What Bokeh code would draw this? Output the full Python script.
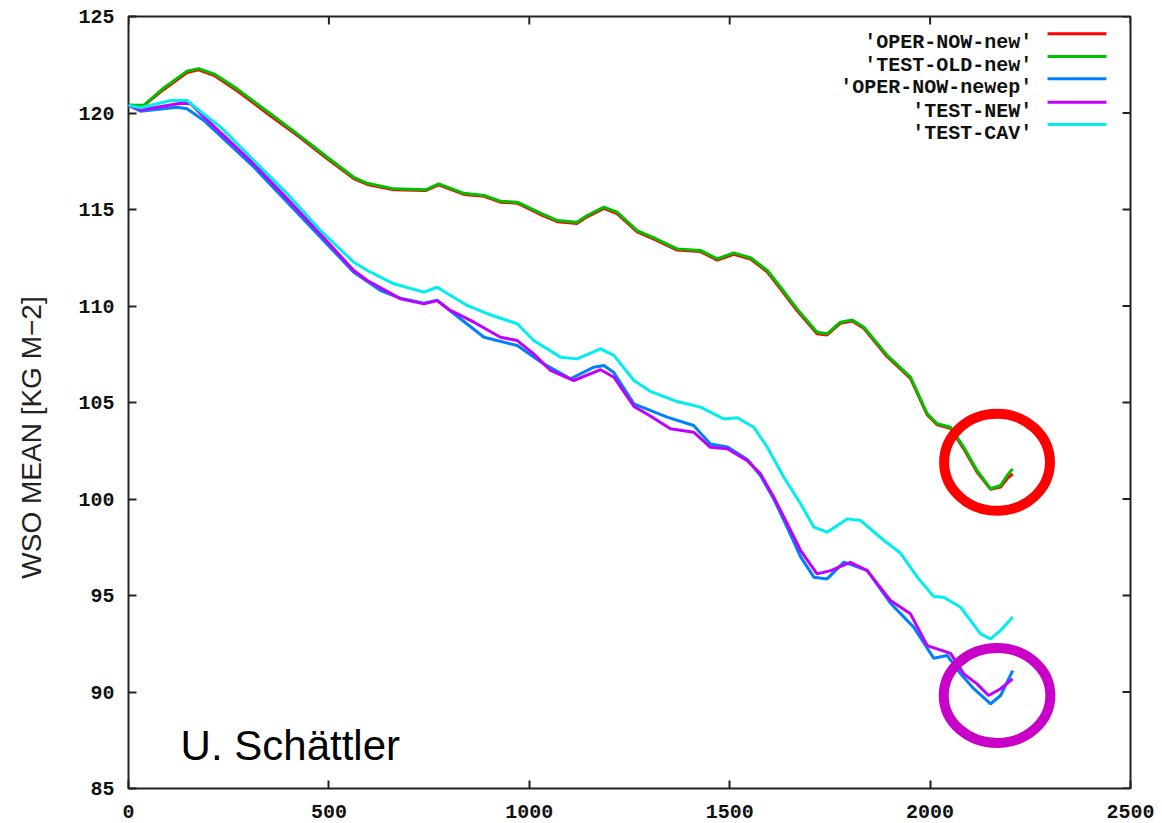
from bokeh.plotting import figure
from bokeh.models import Range1d, FixedTicker, Label
from bokeh.embed import file_html
from bokeh.resources import INLINE

# ---- series (forecast hour vs. mean WSO) ----
series_names = ["'OPER-NOW-new'", "'TEST-OLD-new'", "'OPER-NOW-newep'", "'TEST-NEW'", "'TEST-CAV'"]
series_colors = ["#ff0000", "#00c000", "#0080ff", "#c000ff", "#00eeee"]

oper_now_new_x = [0, 38, 88, 146, 175, 213, 271, 354, 421, 496, 562, 596, 662, 741, 774, 837, 887, 928,
                  970, 1028, 1070, 1119, 1144, 1186, 1219, 1269, 1311, 1369, 1427, 1469, 1510, 1552, 1594,
                  1627, 1668, 1718, 1743, 1776, 1806, 1835, 1893, 1951, 1993, 2018, 2051, 2084, 2117, 2151,
                  2176, 2192, 2206]
oper_now_new_y = [120.4, 120.38, 121.22, 122.1, 122.24, 121.95, 121.15, 119.86, 118.84, 117.63, 116.6,
                  116.3, 116.02, 115.98, 116.28, 115.78, 115.68, 115.38, 115.33, 114.74, 114.37, 114.28,
                  114.62, 115.06, 114.79, 113.84, 113.47, 112.9, 112.82, 112.38, 112.68, 112.43, 111.76,
                  110.88, 109.76, 108.56, 108.5, 109.1, 109.22, 108.83, 107.37, 106.25, 104.35, 103.84,
                  103.66, 102.6, 101.4, 100.5, 100.62, 101.05, 101.3]

test_old_new_x = [0, 38, 88, 146, 175, 213, 271, 354, 421, 496, 562, 596, 662, 741, 774, 837, 887, 928,
                  970, 1028, 1070, 1119, 1144, 1186, 1219, 1269, 1311, 1369, 1427, 1469, 1510, 1552, 1594,
                  1627, 1668, 1718, 1743, 1776, 1806, 1835, 1893, 1951, 1993, 2018, 2051, 2084, 2117, 2151,
                  2176, 2192, 2206]
test_old_new_y = [120.4, 120.4, 121.3, 122.17, 122.3, 122.03, 121.25, 119.96, 118.92, 117.71, 116.67,
                  116.36, 116.07, 116.02, 116.33, 115.84, 115.73, 115.43, 115.38, 114.81, 114.43, 114.34,
                  114.69, 115.12, 114.86, 113.91, 113.53, 112.96, 112.88, 112.44, 112.75, 112.5, 111.84,
                  110.97, 109.85, 108.64, 108.56, 109.16, 109.28, 108.9, 107.44, 106.31, 104.41, 103.9,
                  103.72, 102.68, 101.48, 100.53, 100.7, 101.22, 101.56]

oper_now_newep_x = [0, 30, 121, 146, 188, 313, 396, 479, 562, 629, 679, 737, 770, 812, 887, 970, 1036,
                    1103, 1161, 1186, 1211, 1261, 1344, 1410, 1452, 1494, 1544, 1577, 1610, 1644, 1677,
                    1710, 1743, 1785, 1843, 1901, 1959, 2009, 2043, 2076, 2109, 2151, 2176, 2206]
oper_now_newep_y = [120.4, 120.09, 120.3, 120.22, 119.61, 117.19, 115.38, 113.56, 111.75, 110.8, 110.4,
                    110.15, 110.3, 109.6, 108.38, 107.95, 107.0, 106.23, 106.83, 106.92, 106.55, 104.93,
                    104.24, 103.81, 102.85, 102.7, 102.05, 101.2, 100.0, 98.5, 97.0, 95.95, 95.86, 96.73,
                    96.3, 94.6, 93.36, 91.75, 91.89, 90.94, 90.17, 89.39, 89.82, 91.11]

test_new_x = [0, 30, 130, 155, 188, 313, 396, 479, 562, 596, 679, 737, 770, 803, 862, 928, 970, 1011,
              1053, 1111, 1178, 1211, 1261, 1302, 1352, 1410, 1452, 1494, 1544, 1577, 1610, 1644, 1677,
              1718, 1752, 1801, 1843, 1901, 1951, 1993, 2051, 2084, 2117, 2146, 2176, 2206]
test_new_y = [120.4, 120.16, 120.51, 120.48, 119.8, 117.35, 115.55, 113.72, 111.84, 111.32, 110.37,
              110.11, 110.28, 109.77, 109.16, 108.38, 108.21, 107.52, 106.66, 106.14, 106.7, 106.31, 104.8,
              104.3, 103.64, 103.46, 102.68, 102.6, 101.99, 101.3, 100.09, 98.71, 97.33, 96.12, 96.29,
              96.72, 96.29, 94.74, 94.05, 92.4, 92.0, 90.94, 90.42, 89.82, 90.17, 90.68]

test_cav_x = [0, 30, 105, 146, 171, 230, 313, 396, 479, 562, 596, 662, 737, 770, 845, 895, 970, 1011,
              1078, 1119, 1178, 1211, 1261, 1302, 1369, 1427, 1485, 1519, 1560, 1594, 1635, 1677, 1710,
              1743, 1793, 1826, 1885, 1926, 1970, 2009, 2034, 2076, 2126, 2151, 2176, 2206]
test_cav_y = [120.4, 120.27, 120.65, 120.65, 120.22, 119.27, 117.54, 115.81, 113.91, 112.27, 111.84,
              111.15, 110.72, 110.97, 110.03, 109.6, 109.08, 108.21, 107.35, 107.26, 107.78, 107.44,
              106.14, 105.58, 105.05, 104.76, 104.15, 104.21, 103.72, 102.68, 101.13, 99.75, 98.54,
              98.28, 98.97, 98.89, 97.85, 97.2, 95.9, 94.95, 94.91, 94.39, 93.01, 92.75, 93.19, 93.88]

x_ticks = [0, 500, 1000, 1500, 2000, 2500]
y_ticks = [85, 90, 95, 100, 105, 110, 115, 120, 125]

series_x = [oper_now_new_x, test_old_new_x, oper_now_newep_x, test_new_x, test_cav_x]
series_y = [oper_now_new_y, test_old_new_y, oper_now_newep_y, test_new_y, test_cav_y]

X_MIN, X_MAX = 0, 2500
Y_MIN, Y_MAX = 85, 125

# ---- figure ----
p = figure(width=1162, height=823, output_backend="svg", toolbar_location=None,
           x_range=Range1d(X_MIN, X_MAX), y_range=Range1d(Y_MIN, Y_MAX),
           min_border_left=128, min_border_right=32, min_border_top=16, min_border_bottom=35,
           background_fill_color="white", border_fill_color="white")
p.xgrid.visible = False
p.ygrid.visible = False
p.outline_line_color = "#222222"
p.outline_line_width = 2

TICK_FONT = "Liberation Mono"
TICK_LEN = 8  # px, ticks point into the frame

for ax, ticks in ((p.xaxis[0], x_ticks), (p.yaxis[0], y_ticks)):
    ax.ticker = FixedTicker(ticks=ticks)
    ax.axis_line_color = None
    ax.major_tick_in = TICK_LEN
    ax.major_tick_out = 0
    ax.minor_tick_in = 0
    ax.minor_tick_out = 0
    ax.major_tick_line_color = "#222222"
    ax.major_tick_line_width = 2
    ax.major_label_text_font = TICK_FONT
    ax.major_label_text_font_style = "bold"
    ax.major_label_text_font_size = "20px"
    ax.major_label_text_color = "#111111"
p.xaxis[0].major_label_standoff = 16
p.yaxis[0].major_label_standoff = 14

# y-axis title; the trailing no-break spaces push the visible words a little lower
p.yaxis[0].axis_label = "WSO MEAN [KG M\u22122]" + "\u00a0" * 9
p.yaxis[0].axis_label_text_font = "Liberation Sans"
p.yaxis[0].axis_label_text_font_style = "normal"
p.yaxis[0].axis_label_text_font_size = "28px"
p.yaxis[0].axis_label_text_color = "#222222"
p.yaxis[0].axis_label_standoff = 28

# mirrored ticks on the top and right edges (frame is 1002 x 772 px)
px_per_x = 1002 / (X_MAX - X_MIN)
px_per_y = 772 / (Y_MAX - Y_MIN)
p.segment(x0=x_ticks, x1=x_ticks, y0=[Y_MAX] * len(x_ticks),
          y1=[Y_MAX - TICK_LEN / px_per_y] * len(x_ticks), line_color="#222222", line_width=2)
p.segment(x0=[X_MAX] * len(y_ticks), x1=[X_MAX - TICK_LEN / px_per_x] * len(y_ticks),
          y0=y_ticks, y1=y_ticks, line_color="#222222", line_width=2)

# ---- curves ----
for xs, ys, c in zip(series_x, series_y, series_colors):
    p.line(xs, ys, line_color=c, line_width=3)

# ---- highlight rings around the end of the runs ----
p.ellipse(x=[2167], y=[101.9], width=264, height=5.03, fill_color=None,
          line_color="#ff0000", line_width=10)
p.ellipse(x=[2167], y=[89.82], width=266, height=4.92, fill_color=None,
          line_color="#c800c8", line_width=10)

# ---- key (text left, sample line right) ----
key_text_x = 2255
key_line_x0, key_line_x1 = 2293, 2440
key_line_y = [124.10, 122.93, 121.78, 120.56, 119.40]
for name, c, ly in zip(series_names, series_colors, key_line_y):
    p.add_layout(Label(x=key_text_x, y=ly - 0.47, text=name, text_align="right",
                       text_baseline="alphabetic", text_font=TICK_FONT, text_font_style="bold",
                       text_font_size="20px", text_color="#111111"))
p.segment(x0=[key_line_x0] * 5, x1=[key_line_x1] * 5, y0=key_line_y, y1=key_line_y,
          line_color=series_colors, line_width=3)

# ---- author credit ----
p.add_layout(Label(x=130, y=87.23, text="U. Sch\u00e4ttler", text_font="Liberation Sans",
                   text_font_size="42px", text_baseline="alphabetic", text_color="#000000"))

open("out.html", "w").write(file_html(p, INLINE))
